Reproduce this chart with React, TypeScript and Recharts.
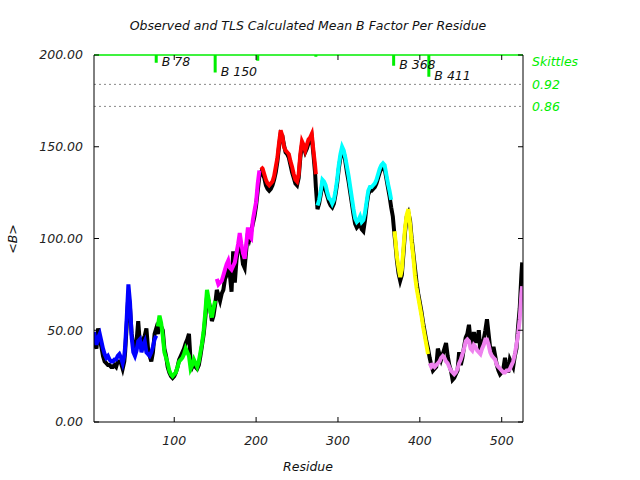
import React from "react";
import { ComposedChart, Line, XAxis, YAxis, ReferenceLine } from "recharts";

// Residue numbers (x), observed mean B (black) and TLS-calculated mean B (coloured by TLS group)
const residues = [
  2, 5, 7, 9, 11, 13, 15, 17, 19, 21, 23, 25, 27, 29, 31, 33, 35, 37, 39, 40, 42, 44, 46, 48, 50, 52, 54, 56, 58, 60, 62, 64, 66, 68, 70, 72, 74, 76, 78,
  80, 82, 84, 86, 88, 90, 92, 94, 96, 98, 100, 102, 104, 106, 108, 110, 112, 114, 116, 118, 120, 122, 124, 126, 128, 130, 132, 134, 136, 138, 140, 142, 144, 146, 148, 150,
  152, 154, 156, 158, 160, 162, 164, 166, 168, 170, 172, 174, 176, 178, 180, 182, 184, 186, 188, 190, 192, 194, 196, 198, 200, 202, 204,
  206, 208, 210, 212, 214, 216, 218, 220, 222, 224, 226, 228, 230, 232, 234, 236, 238, 240, 242, 244, 246, 248, 250, 252, 254, 256, 258, 260, 262, 264, 266, 268, 270, 272, 273,
  275, 277, 279, 281, 283, 285, 287, 289, 291, 293, 295, 297, 299, 301, 303, 305, 307, 309, 311, 313, 315, 317, 319, 321, 323, 325, 327, 329, 331, 333, 335, 337, 339, 341, 343, 345, 347, 349, 351, 353, 355, 357, 359, 361, 363, 365,
  367, 368,
  369, 370, 372, 374, 376, 378, 380, 382, 384, 386, 388, 390, 392, 394, 396, 398, 400, 402, 404, 406, 408, 410,
  412, 414, 416, 418, 420, 422, 424, 426, 428, 430, 432, 434, 436, 438, 440, 442, 444, 446, 448, 450, 452, 454, 456, 458, 460, 462, 464, 466, 468, 470, 472, 474, 476, 478, 480, 482, 484, 486, 488, 490, 492, 494, 496, 498, 500, 502, 504, 506, 508, 510, 512, 514, 516, 518, 520, 522, 524, 525,
];

const observed = [
  44, 40, 51, 45, 41, 36, 33, 32, 31, 31, 30, 30, 31, 30, 33, 33, 32, 29, 33, 38, 53, 70, 62, 48, 42, 40, 44, 55, 43, 41, 45, 47, 51, 40, 36, 33, 38, 48, 51,
  48, 54, 52, 50, 40, 36, 30, 27, 25, 24, 25, 27, 30, 34, 36, 38, 40, 43, 45, 48, 33, 30, 32, 30, 29, 31, 36, 42, 48, 57, 68, 66, 62, 55, 58, 64,
  72, 69, 66, 70, 72, 78, 80, 84, 80, 71, 93, 76, 88, 95, 99, 93, 86, 84, 94, 103, 100, 104, 108, 112, 118, 126, 134,
  136, 135, 133, 129, 127, 126, 127, 129, 132, 136, 142, 150, 157, 156, 151, 147, 146, 144, 140, 136, 133, 130, 129, 133, 144, 151, 150, 147, 149, 152, 153, 155, 146, 136, 128,
  116, 119, 124, 130, 129, 126, 123, 120, 118, 117, 119, 124, 130, 138, 144, 148, 147, 142, 136, 131, 125, 119, 113, 108, 106, 107, 108, 105, 104, 110, 118, 124, 126, 126, 127, 128, 130, 133, 136, 138, 139, 138, 133, 128, 123, 117,
  112, 107,
  102, 98, 88, 81, 77, 80, 92, 104, 112, 114, 110, 100, 92, 84, 76, 70, 65, 60, 54, 49, 44, 40,
  35, 31, 28, 29, 30, 40, 37, 34, 37, 40, 43, 36, 31, 28, 23, 24, 26, 28, 38, 31, 35, 41, 46, 48, 53, 44, 41, 49, 44, 44, 50, 38, 42, 45, 50, 56, 48, 40, 38, 41, 36, 31, 28, 26, 27, 29, 35, 30, 27, 34, 32, 30, 36, 40, 52, 62, 80, 87,
];

const calculated: (number | null)[] = [
  49, 42, 46, 48, 44, 40, 37, 35, 36, 34, 33, 33, 34, 34, 36, 37, 35, 32, 36, 41, 57, 75, 65, 46, 38, 36, 39, 44, 45, 38, 42, 44, 38, 37, 36, 38, 41, 45, 47,
  52, 58, 54, 47, 38, 35, 32, 28, 26, 25, 26, 27, 30, 33, 34, 35, 37, 40, 38, 36, 29, 31, 34, 32, 30, 33, 38, 43, 50, 60, 72, 67, 60, 57, 62, 66,
  78, 75, 76, 77, 80, 83, 86, 88, 84, 83, 85, 87, 92, 97, 103, 97, 92, 89, 97, 106, 101, 100, 110, 115, 120, 130, 137,
  139, 138, 135, 132, 130, 129, 130, 131, 134, 139, 144, 152, 159, 156, 150, 148, 147, 146, 142, 139, 135, 132, 131, 135, 146, 153, 151, 148, 151, 154, 155, 157, 148, 140, 135,
  118, 121, 126, 132, 131, 129, 125, 122, 121, 119, 121, 126, 132, 140, 146, 150, 148, 144, 139, 134, 128, 122, 116, 111, 109, 110, 112, 109, 110, 114, 120, 126, 128, 128, 129, 130, 132, 135, 138, 140, 141, 140, 135, 130, 126, 121,
  null, null,
  104, 100, 90, 84, 79, 83, 95, 106, 113, 116, 108, 98, 90, 80, 73, 68, 63, 58, 52, 47, 42, 37,
  32, 30, 31, 30, 31, 32, 33, 35, 36, 35, 33, 32, 30, 28, 27, 26, 27, 29, 32, 34, 37, 40, 44, 45, 44, 40, 39, 42, 41, 39, 38, 37, 40, 42, 45, 45, 42, 38, 36, 35, 34, 31, 30, 29, 28, 27, 27, 28, 28, 29, 31, 33, 37, 42, 48, 56, 70, 74,
];

// TLS groups (residue ranges) and their colours
const groupStarts = [2, 80, 152, 206, 275, 369, 412];
const groupEnds = [78, 150, 204, 273, 365, 410, 525];
const groupColors = ["#0000ff", "#00ff00", "#ff00ff", "#ff0000", "#00ffff", "#ffff00", "#ee82ee"];

// Skittles markers (hanging from the top of the plot)
const skittleResidues = [78, 150, 202, 273, 368, 411];
const skittleLows = [195.8, 190.4, 196.9, 199.1, 194.2, 188.2];
const skittleLabels = ["B 78", "B 150", "", "", "B 368", "B 411"];

const thresholdValues = [184, 172];
const thresholdLabels = ["0.92", "0.86"];

const xTicks = [100, 200, 300, 400, 500];
const yTicks = [0, 50, 100, 150, 200];

const FONT = "'DejaVu Sans', sans-serif";
const GREEN = "#00ee00";

const rows = residues.map((r, i) => {
  const row: Record<string, number | null> = { r, obs: observed[i] };
  groupStarts.forEach((s, k) => {
    row["c" + k] = r >= s && r <= groupEnds[k] ? calculated[i] : null;
  });
  return row;
});

const skData: { r: number; s: number | null; lab: string }[] = [];
skittleResidues.forEach((r, i) => {
  skData.push({ r, s: 200, lab: "" });
  skData.push({ r, s: skittleLows[i], lab: skittleLabels[i] });
  skData.push({ r: r + 0.5, s: null, lab: "" });
});

const tickStyle = { fontFamily: FONT, fontStyle: "italic", fontSize: 12.5, fill: "#222" };

const textBase: React.CSSProperties = {
  position: "absolute",
  fontFamily: FONT,
  fontStyle: "italic",
  fontSize: 12.5,
  lineHeight: 1,
  whiteSpace: "nowrap",
  color: "#111",
};

export default function App() {
  return (
    <div style={{ position: "absolute", left: 0, top: 0, width: 640, height: 480, background: "#fff" }}>
      <ComposedChart
        width={640}
        height={480}
        data={rows}
        margin={{ top: 45, right: 107, bottom: 28, left: 0 }}
      >
        <XAxis
          xAxisId="b"
          dataKey="r"
          type="number"
          domain={[2, 526]}
          ticks={xTicks}
          allowDataOverflow
          orientation="bottom"
          height={30}
          tickSize={-5}
          tickMargin={19}
          tick={tickStyle}
          axisLine={{ stroke: "#000" }}
          tickLine={{ stroke: "#000" }}
        />
        <XAxis
          xAxisId="t"
          dataKey="r"
          type="number"
          domain={[2, 526]}
          ticks={xTicks}
          allowDataOverflow
          orientation="top"
          height={10}
          tickSize={-5}
          tickFormatter={() => ""}
          axisLine={{ stroke: GREEN, strokeWidth: 1.5 }}
          tickLine={{ stroke: "#000" }}
        />
        <YAxis
          yAxisId="l"
          type="number"
          domain={[0, 200]}
          ticks={yTicks}
          allowDataOverflow
          width={94}
          tickSize={-5}
          tickMargin={16}
          tick={tickStyle}
          tickFormatter={(v: number) => v.toFixed(2)}
          axisLine={{ stroke: "#000" }}
          tickLine={{ stroke: "#000" }}
        />
        <YAxis
          yAxisId="r"
          orientation="right"
          type="number"
          domain={[0, 200]}
          ticks={yTicks}
          allowDataOverflow
          width={10}
          tickSize={-5}
          tickFormatter={() => ""}
          axisLine={{ stroke: "#000" }}
          tickLine={{ stroke: "#000" }}
        />
        {thresholdValues.map((v, i) => (
          <ReferenceLine
            key={"th" + i}
            xAxisId="b"
            yAxisId="l"
            y={v}
            stroke="#888"
            strokeDasharray="2 3"
            label={{
              value: thresholdLabels[i],
              position: "right",
              offset: 9,
              fill: GREEN,
              fontSize: 12.5,
              fontFamily: FONT,
              fontStyle: "italic",
            }}
          />
        ))}
        <Line
          xAxisId="b"
          yAxisId="l"
          dataKey="obs"
          stroke="#000"
          strokeWidth={4}
          strokeLinejoin="miter"
          dot={false}
          isAnimationActive={false}
        />
        {groupColors.map((c, k) => (
          <Line
            key={"g" + k}
            xAxisId="b"
            yAxisId="l"
            dataKey={"c" + k}
            stroke={c}
            strokeWidth={4}
            strokeLinejoin="miter"
            dot={false}
            connectNulls={false}
            isAnimationActive={false}
          />
        ))}
        <Line
          xAxisId="b"
          yAxisId="l"
          data={skData}
          dataKey="s"
          stroke={GREEN}
          strokeWidth={3}
          strokeLinecap="butt"
          dot={false}
          connectNulls={false}
          isAnimationActive={false}
          label={(p: any) => {
            const d = skData[p.index];
            if (!d || !d.lab) return <g key={"l" + p.index} />;
            return (
              <text
                key={"l" + p.index}
                x={p.x + 5.5}
                y={p.y + 3}
                fontFamily={FONT}
                fontStyle="italic"
                fontSize={12.5}
                fill="#111"
              >
                {d.lab}
              </text>
            );
          }}
        />
      </ComposedChart>
      <div style={{ ...textBase, left: 308, top: 26, transform: "translate(-50%, -50%)" }}>
        Observed and TLS Calculated Mean B Factor Per Residue
      </div>
      <div style={{ ...textBase, left: 308, top: 467, transform: "translate(-50%, -50%)" }}>Residue</div>
      <div style={{ ...textBase, left: 13, top: 239, transform: "translate(-50%, -50%) rotate(-90deg)" }}>&lt;B&gt;</div>
      <div style={{ ...textBase, left: 532, top: 62, transform: "translateY(-50%)", color: GREEN }}>Skittles</div>
    </div>
  );
}
